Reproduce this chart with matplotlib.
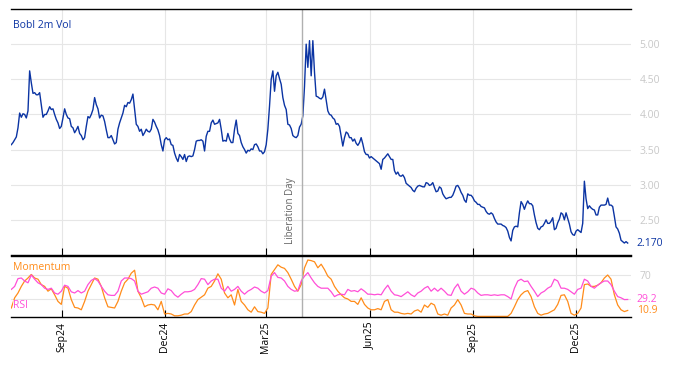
import pandas as pd
import matplotlib
matplotlib.use("Agg")
import matplotlib.pyplot as plt
import matplotlib.dates as mdates

plt.rcParams['font.family'] = ['Open Sans', 'DejaVu Sans']

# Daten
start, end = '2024-07-18', '2026-01-16'

bobl_vol = [
    3.57, 3.60, 3.64, 3.68, 3.81, 4.02, 3.96, 4.01, 4.00, 3.95, 4.05, 4.62, 4.45, 4.30, 4.31, 4.28,
    4.28, 4.31, 4.14, 3.96, 4.00, 4.00, 4.05, 4.11, 4.07, 4.08, 4.00, 3.93, 3.88, 3.80, 3.83, 3.95,
    4.08, 4.00, 3.95, 3.94, 3.83, 3.81, 3.74, 3.78, 3.83, 3.73, 3.70, 3.64, 3.67, 3.83, 3.97, 3.95,
    4.00, 4.07, 4.24, 4.14, 4.08, 3.95, 3.99, 3.98, 3.90, 3.78, 3.67, 3.67, 3.70, 3.64, 3.58,
    3.60, 3.79, 3.88, 3.95, 4.02, 4.13, 4.11, 4.17, 4.16, 4.21, 4.29, 4.07, 3.86, 3.83, 3.76, 3.79,
    3.70, 3.74, 3.79, 3.76, 3.75, 3.79, 3.93, 3.89, 3.83, 3.78, 3.70, 3.57, 3.48, 3.64, 3.67, 3.64,
    3.65, 3.57, 3.56, 3.45, 3.38, 3.33, 3.43, 3.40, 3.36, 3.43, 3.33, 3.40, 3.41, 3.40, 3.41, 3.50,
    3.62, 3.63, 3.63, 3.64, 3.62, 3.48, 3.69, 3.76, 3.76, 3.88, 3.92, 3.86, 3.87, 3.88, 3.93,
    3.79, 3.62, 3.63, 3.62, 3.73, 3.65, 3.60, 3.60, 3.79, 3.92, 3.73, 3.70, 3.60, 3.54, 3.50, 3.45,
    3.49, 3.48, 3.51, 3.50, 3.57, 3.58, 3.54, 3.48, 3.48, 3.44, 3.47, 3.57, 3.79, 4.12, 4.50, 4.62,
    4.33, 4.55, 4.60, 4.51, 4.43, 4.24, 4.13, 4.07, 3.86, 3.85, 3.80, 3.70, 3.68, 3.67, 3.70, 3.82,
    3.86, 3.98, 4.40, 5.00, 4.67, 5.05, 4.55, 5.05, 4.60, 4.26, 4.25, 4.23, 4.22, 4.25,
    4.36, 4.21, 4.05, 4.00, 3.99, 3.95, 3.93, 3.86, 3.87, 3.83, 3.69, 3.55, 3.67, 3.75, 3.73, 3.67,
    3.67, 3.62, 3.65, 3.59, 3.56, 3.60, 3.67, 3.58, 3.47, 3.43, 3.43, 3.38, 3.40, 3.38, 3.36, 3.34,
    3.32, 3.30, 3.22, 3.36, 3.38, 3.41, 3.44, 3.40, 3.36, 3.36, 3.20, 3.15, 3.18, 3.13, 3.12, 3.14,
    3.10, 3.02, 3.00, 2.98, 2.96, 2.92, 2.90, 2.95, 2.98, 2.99, 2.98, 2.97, 2.97, 3.03, 3.02,
    2.99, 3.00, 3.03, 2.96, 2.90, 2.91, 2.97, 2.95, 2.87, 2.83, 2.80, 2.81, 2.82, 2.82, 2.85, 2.91,
    2.98, 2.99, 2.95, 2.89, 2.85, 2.78, 2.75, 2.87, 2.85, 2.85, 2.82, 2.77, 2.75, 2.72, 2.72, 2.69,
    2.68, 2.67, 2.62, 2.59, 2.58, 2.60, 2.58, 2.52, 2.47, 2.44, 2.44, 2.44, 2.42, 2.41, 2.39, 2.34,
    2.25, 2.20, 2.35, 2.40, 2.41, 2.40, 2.60, 2.76, 2.72, 2.65, 2.72, 2.77, 2.73, 2.73,
    2.70, 2.57, 2.46, 2.38, 2.36, 2.40, 2.41, 2.45, 2.50, 2.45, 2.45, 2.48, 2.53, 2.36, 2.38, 2.46,
    2.51, 2.60, 2.58, 2.50, 2.60, 2.52, 2.44, 2.33, 2.29, 2.28, 2.34, 2.36, 2.34, 2.32, 2.45, 3.05,
    2.80, 2.66, 2.70, 2.67, 2.65, 2.64, 2.57, 2.57, 2.68, 2.71, 2.71, 2.71, 2.72, 2.81, 2.71, 2.71,
    2.69, 2.55, 2.40, 2.37, 2.31, 2.21, 2.19, 2.17, 2.19, 2.17,
]

rsi = [
    46, 51, 64, 65, 60, 57, 70, 63, 57, 54, 48, 46, 48, 40, 38, 43, 53, 51, 42, 40,
    44, 40, 43, 54, 61, 64, 60, 51, 43, 37, 36, 36, 43, 60, 65, 65, 64, 60, 43, 38,
    40, 42, 48, 50, 48, 40, 38, 47, 44, 37, 33, 38, 42, 42, 43, 46, 54, 64, 63, 54,
    60, 63, 63, 48, 43, 51, 43, 46, 51, 43, 38, 43, 46, 50, 48, 43, 40, 44, 68, 74,
    66, 65, 60, 51, 46, 43, 44, 60, 68, 74, 65, 57, 51, 48,
    48, 48, 42, 34, 37, 38, 37, 46, 43, 44, 42, 47, 43, 38, 38, 37, 38, 37, 46, 53,
    43, 37, 36, 34, 38, 42, 37, 34, 40, 43, 48, 51, 43, 48, 43, 48, 43, 37, 36, 48,
    55, 43, 38, 42, 48, 46, 40, 36, 37, 37, 36, 37, 36, 37, 37, 34, 30, 48, 60, 63,
    59, 60, 51, 43, 34, 40, 43, 48, 51, 63, 60, 48, 48, 46, 42, 38, 46, 48, 63, 60,
    51, 48, 53, 57, 60, 60, 54, 43, 34, 32, 29, 29.2,
]

momentum = [
    15, 32, 40, 51, 60, 65, 71, 65, 63, 54, 51, 43, 47, 37, 26, 21, 51, 48, 29, 16,
    15, 12, 26, 43, 54, 65, 63, 51, 32, 17, 16, 15, 26, 43, 57, 63, 73, 78, 43, 32,
    17, 20, 21, 20, 12, 26, 5, 6, 5, 2, 2, 3, 5, 5, 9, 20, 29, 33, 37, 48,
    51, 60, 72, 63, 40, 32, 37, 20, 46, 26, 20, 12, 8, 17, 9, 8, 6, 15, 71, 79,
    87, 83, 81, 74, 63, 51, 43, 54, 82, 95, 94, 92, 82, 88,
    79, 68, 63, 51, 43, 37, 32, 30, 26, 26, 21, 32, 21, 15, 12, 12, 14, 12, 26, 29,
    12, 8, 8, 6, 5, 6, 5, 10, 12, 8, 20, 16, 23, 20, 5, 3, 5, 3, 15, 20,
    29, 20, 6, 5, 5, 2, 1, 1, 1, 1, 1, 1, 1, 1, 1, 1, 6, 17, 29, 37,
    42, 44, 34, 17, 6, 3, 5, 6, 9, 12, 21, 36, 37, 26, 6, 3, 6, 15, 54, 55,
    51, 51, 53, 57, 65, 70, 63, 37, 20, 12, 9, 10.9,
]

tick_dates = ['2024-09-01', '2024-12-01', '2025-03-01', '2025-06-01', '2025-09-01', '2025-12-01']
tick_labels = ['Sep24', 'Dec24', 'Mar25', 'Jun25', 'Sep25', 'Dec25']
event_date = '2025-04-02'
event_label = 'Liberation Day'

blue = '#0b34a3'
orange = '#ff8c1a'
pink = '#ff4fd8'
grid_c = '#e6e6e6'

vol_dates = pd.date_range(start, end, periods=len(bobl_vol))
osc_dates = pd.date_range(start, end, periods=len(rsi))
ticks = pd.to_datetime(tick_dates)
event = pd.Timestamp(event_date)
event_num = mdates.date2num(event)

fig = plt.figure(figsize=(6.74, 3.66), dpi=100)
ax = fig.add_axes([0.0163, 0.3033, 0.920, 0.672])
ax2 = fig.add_axes([0.0163, 0.1339, 0.920, 0.168], sharex=ax)

# oberes Panel
ax.plot(vol_dates, bobl_vol, color=blue, lw=1.0)
ax.set_ylim(2.0, 5.5)
ax.set_xlim(pd.Timestamp(start) - pd.Timedelta(days=0.3), pd.Timestamp(end) + pd.Timedelta(days=3))
ax.set_yticks([2.5, 3.0, 3.5, 4.0, 4.5, 5.0])
ax.set_yticklabels([f'{v:.2f}' for v in [2.5, 3.0, 3.5, 4.0, 4.5, 5.0]])
ax.yaxis.tick_right()
ax.tick_params(axis='y', length=0, pad=6, labelsize=7.5, labelcolor='#c8c8c8')
ax.set_xticks(ticks)
ax.tick_params(axis='x', direction='in', length=5, labelbottom=False)
ax.grid(True, color=grid_c, lw=0.8)
ax.set_axisbelow(True)
ax.text(0.004, 0.935, 'Bobl 2m Vol', transform=ax.transAxes, color=blue, fontsize=7.5, va='center')
ax.annotate(f'{bobl_vol[-1]:.3f}', xy=(1, bobl_vol[-1]), xycoords=ax.get_yaxis_transform(),
            xytext=(4, 0), textcoords='offset points', va='center', color=blue, fontsize=7.5)
ax.axvline(event, color='#b0b0b0', lw=1)
ax.annotate(event_label, xy=(event_num, 0.045), xycoords=ax.get_xaxis_transform(),
            xytext=(-4, 0), textcoords='offset points', rotation=90, ha='right', va='bottom',
            color='#666666', fontsize=7)

# unteres Panel
ax2.plot(osc_dates, momentum, color=orange, lw=0.9)
ax2.plot(osc_dates, rsi, color=pink, lw=0.9)
ax2.set_ylim(0, 102.5)
ax2.set_yticks([30, 70])
ax2.set_yticklabels(['', '70'])
ax2.yaxis.tick_right()
ax2.tick_params(axis='y', length=0, pad=6, labelsize=7.5, labelcolor='#c8c8c8')
ax2.set_xticks(ticks)
ax2.set_xticklabels(tick_labels)
ax2.tick_params(axis='x', direction='in', length=5, labelsize=7.5, labelrotation=90)
ax2.grid(True, color=grid_c, lw=0.8)
ax2.set_axisbelow(True)
ax2.axvline(event, color='#b0b0b0', lw=1)
ax2.text(0.004, 0.80, 'Momentum', transform=ax2.transAxes, color=orange, fontsize=7.5, va='center',
         bbox=dict(facecolor='white', edgecolor='none', alpha=0.7, pad=0.5))
ax2.text(0.004, 0.18, 'RSI', transform=ax2.transAxes, color=pink, fontsize=7.5, va='center',
         bbox=dict(facecolor='white', edgecolor='none', alpha=0.7, pad=0.5))
ax2.annotate(f'{rsi[-1]:.1f}', xy=(1, rsi[-1]), xycoords=ax2.get_yaxis_transform(),
             xytext=(4, 0), textcoords='offset points', va='center', color=pink, fontsize=7.5)
ax2.annotate(f'{momentum[-1]:.1f}', xy=(1, momentum[-1]), xycoords=ax2.get_yaxis_transform(),
             xytext=(4, 0), textcoords='offset points', va='center', color=orange, fontsize=7.5)

for a in (ax, ax2):
    a.spines['left'].set_visible(False)
    a.spines['right'].set_visible(False)
    a.spines['top'].set_linewidth(1.0)
    a.spines['bottom'].set_linewidth(1.0)

fig.savefig('out.png', dpi=100)
